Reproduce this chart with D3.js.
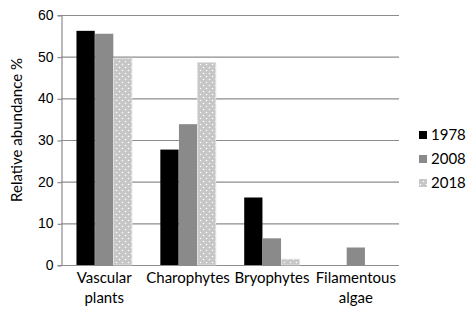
<!DOCTYPE html>
<html>
<head>
<meta charset="utf-8">
<script src="https://cdn.jsdelivr.net/npm/d3@7"></script>
<style>
  body { margin: 0; background: #fff; }
  svg { font-family: Lato, "Open Sans", sans-serif; }
</style>
</head>
<body>
<div id="chart"></div>
<script>
const categories = [["Vascular", "plants"], ["Charophytes"], ["Bryophytes"], ["Filamentous", "algae"]];
const years = ["1978", "2008", "2018"];
const values1978 = [56.2, 27.7, 16.2, null];
const values2008 = [55.5, 33.8, 6.4, 4.2];
const values2018 = [49.6, 48.6, 1.4, null];
const yTicks = [0, 10, 20, 30, 40, 50, 60];

const series = [values1978, values2008, values2018];
const width = 472, height = 325;
const margin = { top: 15, right: 73, bottom: 60, left: 61 };
const innerW = width - margin.left - margin.right;
const innerH = height - margin.top - margin.bottom;

const svg = d3.select("#chart").append("svg")
    .attr("width", width)
    .attr("height", height);

// dotted fill for the 2018 bars
const defs = svg.append("defs");
const pat = defs.append("pattern")
    .attr("id", "dots")
    .attr("width", 6)
    .attr("height", 6)
    .attr("patternUnits", "userSpaceOnUse");
pat.append("rect").attr("width", 6).attr("height", 6).attr("fill", "#c6c6c6");
pat.append("circle").attr("cx", 1.5).attr("cy", 1.5).attr("r", 0.8).attr("fill", "#fff");
pat.append("circle").attr("cx", 4.5).attr("cy", 4.5).attr("r", 0.8).attr("fill", "#fff");

const g = svg.append("g")
    .attr("transform", `translate(${margin.left},${margin.top})`);

const x0 = d3.scaleBand()
    .domain(d3.range(categories.length))
    .range([0, innerW])
    .paddingInner(0.33)
    .paddingOuter(0.18);

const x1 = d3.scaleBand()
    .domain(years)
    .range([0, x0.bandwidth()])
    .padding(0.02);

const y = d3.scaleLinear().domain([0, 60]).range([innerH, 0]);

const fills = ["#000", "#8a8a8a", "url(#dots)"];

// gridlines
g.append("g")
    .selectAll("line")
    .data(yTicks)
    .enter()
    .append("line")
    .attr("x1", 0)
    .attr("x2", innerW)
    .attr("y1", d => y(d) + 0.5)
    .attr("y2", d => y(d) + 0.5)
    .attr("stroke", "#8c8c8c")
    .attr("stroke-width", 1.2);

// y axis
const yAxis = g.append("g")
    .attr("transform", "translate(0.5,0)")
    .call(d3.axisLeft(y).tickValues(yTicks).tickSize(4).tickPadding(4));
yAxis.select(".domain").attr("stroke", "#8c8c8c").attr("stroke-width", 1.2);
yAxis.selectAll(".tick line").attr("stroke", "#8c8c8c").attr("stroke-width", 1.2);
yAxis.selectAll(".tick text")
    .style("font-size", "14px")
    .attr("fill", "#000");
yAxis.selectAll(".tick line").attr("transform", "translate(0,0.5)");

// bars
series.forEach((vals, si) => {
    g.append("g")
        .selectAll("rect")
        .data(vals.map((v, i) => ({ v, i })).filter(d => d.v !== null))
        .enter()
        .append("rect")
        .attr("x", d => x0(d.i) + x1(years[si]))
        .attr("y", d => y(d.v))
        .attr("width", x1.bandwidth())
        .attr("height", d => innerH - y(d.v))
        .attr("fill", fills[si])
        .attr("stroke", si === 2 ? "#e0e0e0" : "none")
        .attr("stroke-width", 0.8);
});

// category labels
const labels = g.append("g")
    .selectAll("text")
    .data(categories)
    .enter()
    .append("text")
    .attr("text-anchor", "middle")
    .attr("transform", (d, i) => `translate(${x0(i) + x0.bandwidth() / 2},${innerH + 18})`)
    .style("font-size", "15px")
    .attr("fill", "#000");
labels.selectAll("tspan")
    .data(d => d)
    .enter()
    .append("tspan")
    .attr("x", 0)
    .attr("dy", (d, i) => i === 0 ? "0" : "20")
    .text(d => d);

// y axis title
svg.append("text")
    .attr("transform", `translate(22,130) rotate(-90)`)
    .attr("text-anchor", "middle")
    .style("font-size", "15px")
    .attr("fill", "#000")
    .text("Relative abundance %");

// legend
const legend = svg.append("g")
    .attr("transform", "translate(419,135)");
const items = legend.selectAll("g")
    .data(years)
    .enter()
    .append("g")
    .attr("transform", (d, i) => `translate(0,${i * 24})`);
items.append("rect")
    .attr("x", 0)
    .attr("y", -4)
    .attr("width", 8)
    .attr("height", 8)
    .attr("fill", (d, i) => fills[i]);
items.append("text")
    .attr("x", 12)
    .attr("dy", "0.35em")
    .style("font-size", "15px")
    .attr("fill", "#000")
    .text(d => d);
</script>
</body>
</html>
